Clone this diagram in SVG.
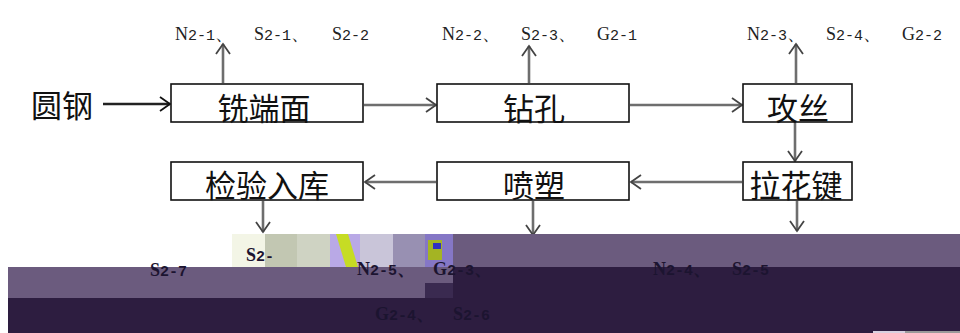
<svg xmlns="http://www.w3.org/2000/svg" width="960" height="333" viewBox="0 0 960 333">
<defs>
<style>
.box{fill:#fff;stroke:#111;stroke-width:1.6}
.cjk{font-family:"Noto Sans CJK SC","Noto Sans CJK JP",sans-serif;font-size:31px;fill:#111;text-anchor:middle}
.lab{font-family:"Liberation Serif","DejaVu Serif",serif;font-size:18px;fill:#222}
.sub{font-family:"Liberation Mono","DejaVu Sans Mono",monospace;font-size:15px}
.conn{fill:none;stroke:#6e6e6e;stroke-width:2.6}
.dark{stroke:#222}
.blab{font-family:"Liberation Serif","DejaVu Serif",serif;font-size:18px;fill:#1c1430;font-weight:bold}
</style>
<marker id="ah" viewBox="-12 -9 14 18" refX="0" refY="0" markerWidth="14" markerHeight="18" markerUnits="userSpaceOnUse" orient="auto">
<path d="M-10,-7 L0,0 L-10,7" fill="none" stroke="#444" stroke-width="1.8"/>
</marker>
<marker id="ahd" viewBox="-12 -9 14 18" refX="0" refY="0" markerWidth="14" markerHeight="18" markerUnits="userSpaceOnUse" orient="auto">
<path d="M-10,-7 L0,0 L-10,7" fill="none" stroke="#111" stroke-width="1.8"/>
</marker>
</defs>
<rect width="960" height="333" fill="#fff"/>

<g id="connectors">
<line class="conn dark" x1="103" y1="104" x2="170" y2="104" marker-end="url(#ahd)"/>
<line class="conn" x1="364" y1="105" x2="436" y2="105" marker-end="url(#ah)"/>
<line class="conn" x1="630" y1="105" x2="742" y2="105" marker-end="url(#ah)"/>
<line class="conn" x1="795" y1="123" x2="795" y2="161" marker-end="url(#ah)"/>
<line class="conn" x1="742" y1="182" x2="631" y2="182" marker-end="url(#ah)"/>
<line class="conn" x1="436" y1="182" x2="365" y2="182" marker-end="url(#ah)"/>
<line class="conn" x1="223" y1="83" x2="223" y2="44" marker-end="url(#ah)"/>
<line class="conn" x1="529" y1="83" x2="529" y2="46" marker-end="url(#ah)"/>
<line class="conn" x1="796" y1="83" x2="796" y2="44" marker-end="url(#ah)"/>
<line class="conn" x1="263" y1="201" x2="263" y2="232" marker-end="url(#ah)"/>
<line class="conn" x1="533" y1="201" x2="533" y2="235" marker-end="url(#ah)"/>
<line class="conn" x1="797" y1="201" x2="797" y2="231" marker-end="url(#ah)"/>
</g>

<g id="n-yuangang"><text class="cjk" x="62" y="117">圆钢</text></g>
<g id="n-xiduanmian"><rect class="box" x="171" y="84" width="192" height="38"/><text class="cjk" x="264" y="120">铣端面</text></g>
<g id="n-zuankong"><rect class="box" x="437" y="84" width="192" height="38"/><text class="cjk" x="534" y="120">钻孔</text></g>
<g id="n-gongsi"><rect class="box" x="743" y="84" width="109" height="38"/><text class="cjk" x="798" y="120">攻丝</text></g>
<g id="n-jianyan"><rect class="box" x="171" y="162" width="192" height="38"/><text class="cjk" x="267" y="197">检验入库</text></g>
<g id="n-pensu"><rect class="box" x="437" y="162" width="192" height="38"/><text class="cjk" x="534" y="197">喷塑</text></g>
<g id="n-lahuajian"><rect class="box" x="743" y="162" width="109" height="38"/><text class="cjk" x="796" y="197">拉花键</text></g>

<g id="label-1"><text class="lab" y="40"><tspan x="175">N</tspan><tspan class="sub">2-1</tspan><tspan>、</tspan><tspan x="254">S</tspan><tspan class="sub">2-1</tspan><tspan>、</tspan><tspan x="332">S</tspan><tspan class="sub">2-2</tspan></text></g>
<g id="label-2"><text class="lab" y="40"><tspan x="442">N</tspan><tspan class="sub">2-2</tspan><tspan>、</tspan><tspan x="521">S</tspan><tspan class="sub">2-3</tspan><tspan>、</tspan><tspan x="597">G</tspan><tspan class="sub">2-1</tspan></text></g>
<g id="label-3"><text class="lab" y="40"><tspan x="747">N</tspan><tspan class="sub">2-3</tspan><tspan>、</tspan><tspan x="826">S</tspan><tspan class="sub">2-4</tspan><tspan>、</tspan><tspan x="902">G</tspan><tspan class="sub">2-2</tspan></text></g>

<g id="corruption">
<rect x="453" y="234" width="507" height="33" fill="#6b5b7e"/>
<rect x="8" y="267" width="445" height="31" fill="#6b5b7e"/>
<rect x="453" y="267" width="507" height="66" fill="#2d1d40"/>
<rect x="425" y="283" width="28" height="15" fill="#3a2a50"/>
<rect x="8" y="298" width="952" height="35" fill="#2d1d40"/>
<rect x="232" y="234" width="33" height="33" fill="#f3f5e6"/>
<rect x="265" y="234" width="32" height="33" fill="#c2c7b2"/>
<rect x="297" y="234" width="33" height="33" fill="#cfd3c3"/>
<rect x="330" y="234" width="30" height="33" fill="#b9a9e6"/>
<path d="M336,234 L348,234 L358,267 L346,267 Z" fill="#c6dc24"/>
<rect x="360" y="234" width="33" height="33" fill="#c9c5d9"/>
<rect x="393" y="234" width="32" height="33" fill="#9890b2"/>
<rect x="425" y="234" width="28" height="33" fill="#8577c6"/>
<rect x="428" y="240" width="14" height="20" fill="#a4b423"/>
<rect x="433" y="243" width="8" height="6" fill="#3030c0"/>
<rect x="873" y="331" width="32" height="2" fill="#d8d0e0"/>
<rect x="905" y="331" width="55" height="2" fill="#9a9a9a"/>
</g>

<g id="label-bottom">
<text class="blab" y="276"><tspan x="150">S</tspan><tspan class="sub">2-7</tspan></text>
<text class="blab" y="261"><tspan x="246">S</tspan><tspan class="sub">2-</tspan></text>
<text class="blab" y="275"><tspan x="357">N</tspan><tspan class="sub">2-5</tspan><tspan>、</tspan><tspan x="433">G</tspan><tspan class="sub">2-3</tspan><tspan>、</tspan></text>
<text class="blab" y="320"><tspan x="375">G</tspan><tspan class="sub">2-4</tspan><tspan>、</tspan><tspan x="453">S</tspan><tspan class="sub">2-6</tspan></text>
<text class="blab" y="275"><tspan x="653">N</tspan><tspan class="sub">2-4</tspan><tspan>、</tspan><tspan x="732">S</tspan><tspan class="sub">2-5</tspan></text>
</g>
</svg>
